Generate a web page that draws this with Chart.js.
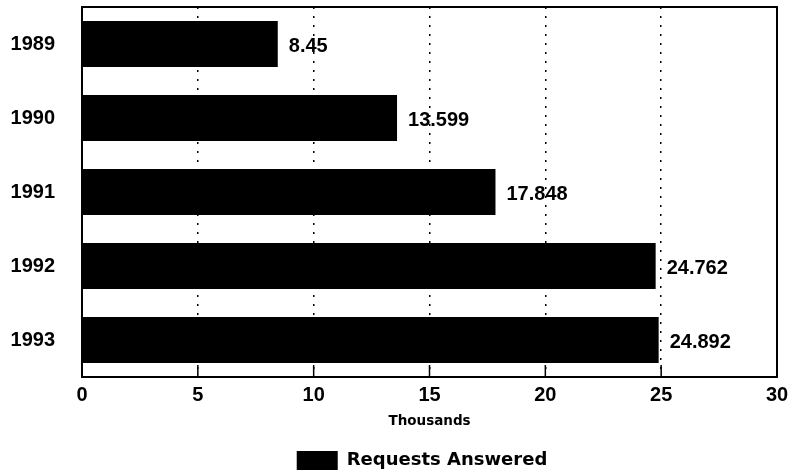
<!DOCTYPE html>
<html>
<head>
<meta charset="utf-8">
<script src="https://cdn.jsdelivr.net/npm/chart.js@4/dist/chart.umd.min.js"></script>
<style>
  html, body { margin: 0; padding: 0; background: #fff; }
  #wrap { width: 790px; height: 476px; }
</style>
</head>
<body>
<div id="wrap"><canvas id="chart" width="790" height="476"></canvas></div>
<script>
const years = ['1989', '1990', '1991', '1992', '1993'];
const requests = [8.45, 13.599, 17.848, 24.762, 24.892];
const valueLabels = ['8.45', '13.599', '17.848', '24.762', '24.892'];
const xTicks = [0, 5, 10, 15, 20, 25, 30];

const FONT = '"Liberation Sans", Arial, sans-serif';
const WIDE = '"DejaVu Sans", sans-serif';

// frame round the plot, short ticks at bottom, and the value labels
const framePlugin = {
    id: 'frame',
    afterLayout(chart) {
        // the legend sits a bit right of centre and lower in the original
        chart.legend.left += 27;
        chart.legend.right += 27;
        chart.legend.top += 4;
        chart.legend.bottom += 4;
    },
    afterDatasetsDraw(chart) {
        const ctx = chart.ctx;
        const a = chart.chartArea;
        const xs = chart.scales.x;
        ctx.save();
        ctx.strokeStyle = '#000';
        ctx.lineWidth = 2;
        ctx.strokeRect(a.left, a.top, a.right - a.left, a.bottom - a.top);
        ctx.lineWidth = 1.5;
        xTicks.forEach(t => {
            const x = xs.getPixelForValue(t);
            ctx.beginPath();
            ctx.moveTo(x, a.bottom);
            ctx.lineTo(x, a.bottom - 12);
            ctx.stroke();
        });
        ctx.fillStyle = '#000';
        ctx.font = 'bold 20px ' + FONT;
        ctx.textBaseline = 'middle';
        ctx.textAlign = 'left';
        const meta = chart.getDatasetMeta(0);
        meta.data.forEach((bar, i) => {
            ctx.fillText(valueLabels[i], bar.x + 11, bar.y + 2);
        });
        ctx.restore();
    }
};

new Chart(document.getElementById('chart'), {
    type: 'bar',
    data: {
        labels: years,
        datasets: [{
            label: 'Requests Answered',
            data: requests,
            backgroundColor: '#000',
            borderWidth: 0,
            barPercentage: 0.62,
            categoryPercentage: 1
        }]
    },
    options: {
        indexAxis: 'y',
        responsive: false,
        animation: false,
        layout: { padding: { left: 0, right: 0, top: 7, bottom: 0 } },
        plugins: {
            tooltip: { enabled: false },
            legend: {
                position: 'bottom',
                labels: {
                    color: '#000',
                    boxWidth: 41,
                    boxHeight: 19,
                    font: { family: WIDE, size: 18, weight: 'bold' },
                    padding: 3
                }
            }
        },
        scales: {
            x: {
                min: 0,
                max: 30,
                ticks: {
                    stepSize: 5,
                    color: '#000',
                    padding: 6,
                    font: { family: FONT, size: 20, weight: 'bold' }
                },
                grid: {
                    color: '#000',
                    lineWidth: 1.5,
                    drawTicks: false
                },
                border: { display: false, dash: [2, 7] },
                title: {
                    display: true,
                    text: 'Thousands',
                    color: '#000',
                    padding: { top: 5, bottom: 14 },
                    font: { family: WIDE, size: 13.5, weight: 'bold' }
                },
                afterFit(scale) {
                    scale.height = 67;
                    scale.paddingLeft = 0;
                    scale.paddingRight = 13;
                }
            },
            y: {
                ticks: {
                    color: '#000',
                    padding: 27,
                    font: { family: FONT, size: 20, weight: 'bold' }
                },
                grid: { display: false, drawTicks: false },
                border: { display: false },
                afterFit(scale) {
                    scale.width = 82;
                    scale.paddingTop = 0;
                    scale.paddingBottom = 0;
                }
            }
        }
    },
    plugins: [framePlugin]
});
</script>
</body>
</html>
